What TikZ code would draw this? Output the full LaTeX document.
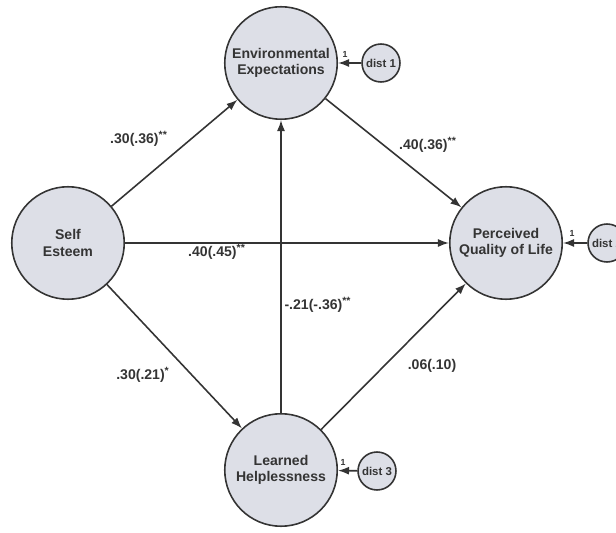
\documentclass[tikz,border=0pt]{standalone}
\usepackage{fontspec}
\setmainfont{Liberation Sans}
\usetikzlibrary{arrows.meta}
\definecolor{circfill}{RGB}{221,223,231}
\definecolor{inkgray}{RGB}{52,52,52}

\begin{document}
\begin{tikzpicture}[x=0.02cm, y=-0.02cm, color=inkgray, line width=0.9pt,
		latent/.style={draw,shape=circle,fill=circfill,minimum size=2.25cm,inner sep=0pt,align=center,font=\fontsize{8}{9.5}\selectfont\bfseries},
		dist/.style={draw,shape=circle,fill=circfill,minimum size=0.76cm,inner sep=0pt,font=\fontsize{6.5}{7}\selectfont\bfseries},
		coef/.style={font=\fontsize{8}{9}\selectfont\bfseries},
		one/.style={font=\fontsize{5}{5}\selectfont\bfseries},
		arr/.style={-{Latex[length=2.2mm,width=1.6mm]}}]
		\useasboundingbox (0,0) rectangle (616,533);

		\path (281,63) node[latent] (ee) {Environmental\\Expectations}
		(68,243) node[latent] (se) {Self\\Esteem}
		(506,243) node[latent] (pql) {Perceived\\Quality of Life}
		(281,470) node[latent] (lh) {Learned\\Helplessness}
		(381,63) node[dist] (d1) {dist 1}
		(607,243) node[dist] (d2) {dist 2}
		(377,471) node[dist] (d3) {dist 3};

		\draw[arr] (se) edge (ee)
		(ee) edge (pql)
		(se) edge (pql)
		(lh) edge (ee)
		(se) edge (lh)
		(lh) edge (pql)
		(d1) edge (ee)
		(d2) edge (pql)
		(d3) edge (lh);

		\path (139,139) node[coef] (w1) {.30(.36)\textsuperscript{**}}
		(428,145) node[coef] (w2) {.40(.36)\textsuperscript{**}}
		(217,252) node[coef] (w3) {.40(.45)\textsuperscript{**}}
		(318,305) node[coef] (w4) {-.21(-.36)\textsuperscript{**}}
		(143,375) node[coef] (w5) {.30(.21)\textsuperscript{*}}
		(432,366) node[coef] (w6) {.06(.10)}
		(345,54) node[one] (o1) {1}
		(572,233) node[one] (o2) {1}
		(343,462) node[one] (o3) {1};
	\end{tikzpicture}
\end{document}
